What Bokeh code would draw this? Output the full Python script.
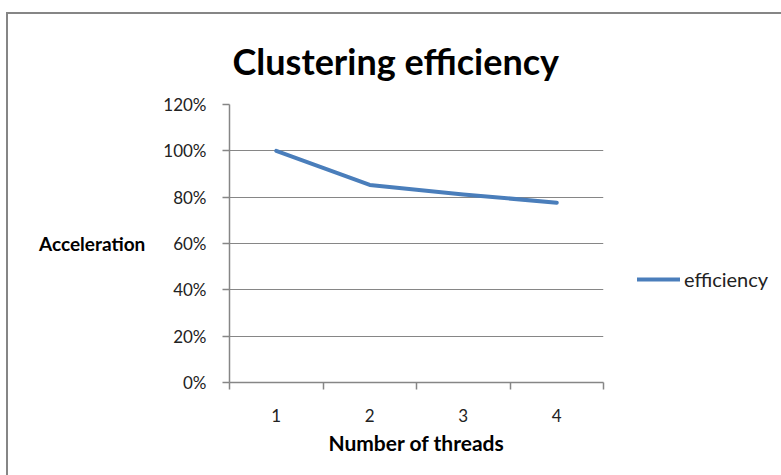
from bokeh.plotting import figure
from bokeh.models import (Range1d, FixedTicker, NumeralTickFormatter,
                          Legend, LegendItem, Title)
from bokeh.embed import file_html
from bokeh.resources import INLINE

# ---- data ----
threads = [1, 2, 3, 4]
efficiency = [1.00, 0.853, 0.812, 0.776]
y_ticks = [0.0, 0.2, 0.4, 0.6, 0.8, 1.0, 1.2]
title_text = "Clustering efficiency"
x_label = "Number of threads"
y_label = "Acceleration"
series_name = "efficiency"

GRAY = "#868686"
BLUE = "#4A7EBB"
FONT = "Lato"

p = figure(width=773, height=461, frame_width=374, frame_height=278,
           min_border_left=221, min_border_right=178,
           min_border_top=90, min_border_bottom=93,
           x_range=Range1d(0.5, 4.5), y_range=Range1d(0, 1.2),
           output_backend="svg", toolbar_location=None, title=None)
p.outline_line_color = None
p.background_fill_color = "white"
p.border_fill_color = "white"
p.styles = {"margin-left": "6px", "margin-top": "12px",
            "border-left": f"2px solid {GRAY}",
            "border-top": f"2px solid {GRAY}"}

r = p.line(threads, efficiency, line_color=BLUE, line_width=4,
           line_cap="round", line_join="round")

# x axis: labels at centers, ticks at category boundaries (minor ticks)
p.xaxis.ticker = FixedTicker(ticks=threads,
                             minor_ticks=[0.5, 1.5, 2.5, 3.5, 4.5])
p.xaxis.major_tick_out = 0
p.xaxis.major_tick_in = 0
p.xaxis.minor_tick_out = 7
p.xaxis.minor_tick_in = 0
p.xaxis.minor_tick_line_color = GRAY
p.xaxis.minor_tick_line_width = 1.5
p.xaxis.major_label_standoff = 19
p.xaxis.axis_label = x_label
p.xaxis.axis_label_standoff = 5
p.xgrid.grid_line_color = None

p.yaxis.ticker = FixedTicker(ticks=y_ticks)
p.yaxis.formatter = NumeralTickFormatter(format="0%")
p.yaxis.major_tick_out = 7
p.yaxis.major_tick_in = 0
p.yaxis.minor_tick_line_color = None
p.yaxis.major_label_standoff = 16
p.yaxis.axis_label = y_label
p.yaxis.axis_label_orientation = "horizontal"
p.yaxis.axis_label_standoff = 15
p.ygrid.grid_line_color = GRAY
p.ygrid.grid_line_width = 1

for ax in (p.xaxis, p.yaxis):
    ax.axis_line_color = GRAY
    ax.axis_line_width = 1.5
    ax.major_tick_line_color = GRAY
    ax.major_tick_line_width = 1.5
    ax.major_label_text_font = FONT
    ax.major_label_text_font_size = "17px"
    ax.major_label_text_color = "#222222"
    ax.axis_label_text_font = FONT
    ax.axis_label_text_font_style = "bold"
    ax.axis_label_text_color = "black"
p.yaxis.axis_label_text_font_size = "19px"
p.xaxis.axis_label_text_font_size = "21px"

p.add_layout(Title(text=title_text, align="left", offset=3, standoff=44,
                   text_font=FONT, text_font_style="bold",
                   text_font_size="36px", text_color="black"), "above")

legend = Legend(items=[LegendItem(label=series_name, renderers=[r])],
                location=(34, 91), glyph_width=43, glyph_height=20,
                label_standoff=4, padding=0, margin=0,
                border_line_color=None, background_fill_alpha=0,
                label_text_font=FONT, label_text_font_size="20px",
                label_text_color="#222222")
p.add_layout(legend, "right")

open("out.html", "w").write(file_html(p, INLINE))
